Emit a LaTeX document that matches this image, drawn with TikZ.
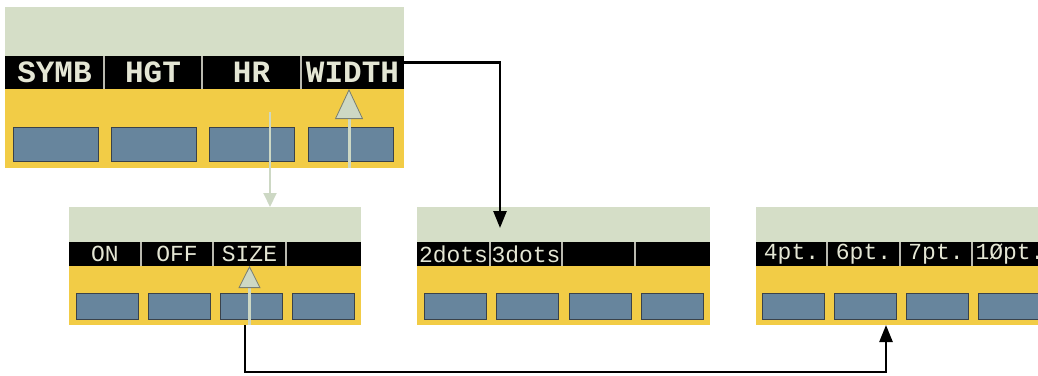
\documentclass[tikz,border=0pt]{standalone}
\usepackage{fontspec}
\setmonofont{Liberation Mono}
\usepackage{tikz}
\usetikzlibrary{positioning, arrows.meta}

\definecolor{lcdgreen}{RGB}{213,222,199}
\definecolor{panelyellow}{RGB}{242,204,70}
\definecolor{keyblue}{RGB}{103,133,157}
\definecolor{keyedge}{RGB}{58,66,74}
\definecolor{labeltext}{RGB}{228,230,212}
\definecolor{dividergray}{RGB}{185,185,175}
\definecolor{cursorgreen}{RGB}{205,216,196}
\definecolor{cursoredge}{RGB}{120,126,112}

\begin{document}
\begin{tikzpicture}[
        x=1pt, y=-1pt,
        lcd/.style={fill=lcdgreen, inner sep=0pt, outer sep=0pt, anchor=north west},
        base/.style={fill=panelyellow, inner sep=0pt, outer sep=0pt, anchor=north west},
        bigcell/.style={fill=black, text=labeltext, inner sep=0pt, outer sep=0pt, anchor=north west, minimum height=33pt, font=\ttfamily\bfseries\fontsize{31}{31}\selectfont},
        cell/.style={fill=black, text=labeltext, inner sep=0pt, outer sep=0pt, anchor=north west, minimum height=24pt, font=\ttfamily\fontsize{23}{23}\selectfont},
        bigkey/.style={draw=keyedge, fill=keyblue, line width=1pt, inner sep=0pt, outer sep=0pt, anchor=north west, minimum width=85pt, minimum height=34pt},
        key/.style={draw=keyedge, fill=keyblue, line width=1pt, inner sep=0pt, outer sep=0pt, anchor=north west, minimum width=62pt, minimum height=26pt},
        divider/.style={draw=dividergray, line width=1.5pt},
        link/.style={draw=black, line width=2.5pt, -{Triangle[length=17pt, width=13pt]}},
        pointer/.style={draw=cursorgreen, line width=2pt, -{Triangle[length=14pt, width=13pt]}},
        cursor/.style={draw=cursorgreen, line width=2.5pt, -{Triangle[length=22pt, width=22pt, color=cursoredge, fill=cursorgreen, line width=0.8pt]}},
        bigcursor/.style={draw=cursorgreen, line width=3pt, -{Triangle[length=30pt, width=28pt, color=cursoredge, fill=cursorgreen, line width=0.8pt]}}
    ]
    \useasboundingbox (0,0) rectangle (1038,375);

    % Pannello 1
    \node[lcd, minimum width=399pt, minimum height=49pt] (p1top) at (5,7) {};
    \node[base, minimum width=399pt, minimum height=79pt] (p1base) at (5,89) {};
    \node[bigcell, minimum width=99pt] (symb) at (5,56) {SYMB};
    \node[bigcell, minimum width=98pt] (hgt) at (104,56) {HGT};
    \node[bigcell, minimum width=99pt] (hr) at (202,56) {HR};
    \node[bigcell, minimum width=103pt] (width) at (301,56) {WIDTH};
    \draw[divider] (symb.north east) -- (symb.south east);
    \draw[divider] (hgt.north east) -- (hgt.south east);
    \draw[divider] (hr.north east) -- (hr.south east);
    \node[bigkey] (k1a) at (13,127) {};
    \node[bigkey] (k1b) at (111,127) {};
    \node[bigkey] (k1c) at (209,127) {};
    \node[bigkey] (k1d) at (308,127) {};

    % Pannello 2
    \node[lcd, minimum width=292pt, minimum height=35pt] (p2top) at (69,207) {};
    \node[base, minimum width=292pt, minimum height=59pt] (p2base) at (69,266) {};
    \node[cell, minimum width=72pt] (on) at (69,242) {ON};
    \node[cell, minimum width=72pt] (off) at (141,242) {OFF};
    \node[cell, minimum width=73pt] (size) at (213,242) {SIZE};
    \node[cell, minimum width=75pt] (empty2) at (286,242) {};
    \draw[divider] (on.north east) -- (on.south east);
    \draw[divider] (off.north east) -- (off.south east);
    \draw[divider] (size.north east) -- (size.south east);
    \node[key] (k2a) at (76,293) {};
    \node[key] (k2b) at (148,293) {};
    \node[key] (k2c) at (220,293) {};
    \node[key] (k2d) at (292,293) {};

    % Pannello 3
    \node[lcd, minimum width=293pt, minimum height=35pt] (p3top) at (417,207) {};
    \node[base, minimum width=293pt, minimum height=59pt] (p3base) at (417,266) {};
    \node[cell, minimum width=73pt] (twodots) at (417,242) {2dots};
    \node[cell, minimum width=72pt] (threedots) at (490,242) {3dots};
    \node[cell, minimum width=73pt] (empty3a) at (562,242) {};
    \node[cell, minimum width=75pt] (empty3b) at (635,242) {};
    \draw[divider] (twodots.north east) -- (twodots.south east);
    \draw[divider] (threedots.north east) -- (threedots.south east);
    \draw[divider] (empty3a.north east) -- (empty3a.south east);
    \node[key] (k3a) at (424,293) {};
    \node[key] (k3b) at (496,293) {};
    \node[key] (k3c) at (569,293) {};
    \node[key] (k3d) at (641,293) {};

    % Pannello 4 (tagliato a destra)
    \node[lcd, minimum width=292pt, minimum height=35pt] (p4top) at (756,207) {};
    \node[base, minimum width=292pt, minimum height=59pt] (p4base) at (756,266) {};
    \node[cell, minimum width=71pt] (pta) at (756,242) {4pt.};
    \node[cell, minimum width=73pt] (ptb) at (827,242) {6pt.};
    \node[cell, minimum width=72pt] (ptc) at (900,242) {7pt.};
    \node[cell, minimum width=76pt] (ptd) at (972,242) {1Øpt.};
    \draw[divider] (pta.north east) -- (pta.south east);
    \draw[divider] (ptb.north east) -- (ptb.south east);
    \draw[divider] (ptc.north east) -- (ptc.south east);
    \node[key] (k4a) at (762,293) {};
    \node[key] (k4b) at (834,293) {};
    \node[key] (k4c) at (906,293) {};
    \node[key] (k4d) at (978,293) {};

    % Punti di partenza e arrivo
    \coordinate (hrstart) at (270,112);
    \coordinate (wpress) at (349,168);
    \coordinate (dotsin) at (500,228);
    \coordinate (sizeout) at (245,325);
    \coordinate (ptin) at (886,325);

    % Collegamenti neri
    \draw[link] ([yshift=10pt]width.east) -| (dotsin);
    \draw[link] (sizeout) -- ++(0,47) -| (ptin);

    % Frecce chiare (tasti premuti)
    \draw[pointer] (hrstart) -- (hrstart |- p2top.north);
    \draw[bigcursor] (wpress) -- (wpress |- width.south);
    \draw[cursor] (p2base.south -| size) -- (size.south);

    \end{tikzpicture}
\end{document}
